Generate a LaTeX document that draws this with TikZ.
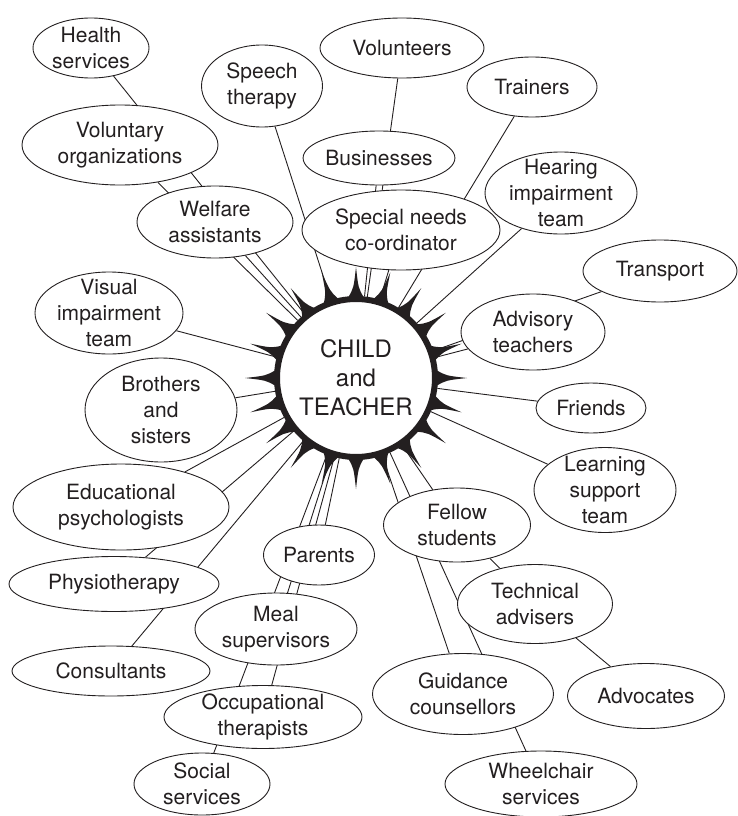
\documentclass[tikz,border=0pt]{standalone}
\usepackage{fontspec}
\setmainfont{TeX Gyre Heros}
\usetikzlibrary{shapes.geometric,backgrounds}
\definecolor{ink}{RGB}{35,31,32}
\tikzset{
  bub/.style={ellipse, draw=ink, fill=white, line width=0.9pt, inner xsep=0pt,
    inner ysep=-2pt, align=center, text=ink, font=\fontsize{21}{26}\selectfont},
  hub/.style={circle, draw=ink, fill=white, line width=6pt, inner sep=0pt,
    minimum size=158pt, align=center, text=ink, font=\fontsize{24}{29}\selectfont},
  link/.style={ink, line width=0.9pt}
}
\begin{document}
\begin{tikzpicture}[x=1pt, y=-1pt]
\useasboundingbox (0,0) rectangle (737,816);
% centre
\draw (356,378) node[hub](child){CHILD\\and\\TEACHER};
\foreach \a in {0,18,...,342}
  \fill[ink, shift={(child.center)}] (\a-5.5:81) .. controls (\a-1.5:90) .. (\a:111)
    .. controls (\a+1.5:90) .. (\a+5.5:81) -- cycle;
% upper left
\draw (91,48) node[bub, minimum width=116pt, minimum height=60pt](health){Health\\services}
    (120,145) node[bub, minimum width=196pt, minimum height=80pt](volorg){Voluntary\\organizations}
    (215,222) node[bub, minimum width=156pt, minimum height=72pt](welfare){Welfare\\assistants}
    (262,86) node[bub, minimum width=121pt, minimum height=82pt](speech){Speech\\therapy}
    (109,313) node[bub, minimum width=148pt, minimum height=82pt, inner ysep=-7pt](visual){Visual\\impairment\\team};
% upper right
\draw (402,48) node[bub, minimum width=164pt, minimum height=60pt](volunteers){Volunteers}
    (379,158) node[bub, minimum width=138pt, minimum height=54pt](business){Businesses}
    (401,230) node[bub, minimum width=198pt, minimum height=80pt](senco){Special needs\\co-ordinator}
    (532,87) node[bub, minimum width=130pt, minimum height=60pt](trainers){Trainers}
    (561,193) node[bub, minimum width=152pt, minimum height=82pt, inner ysep=-7pt](hearing){Hearing\\impairment\\team}
    (660,271) node[bub, minimum width=154pt, minimum height=62pt](transport){Transport}
    (533,332) node[bub, minimum width=144pt, minimum height=76pt](advisory){Advisory\\teachers}
    (591,408) node[bub, minimum width=110pt, minimum height=50pt](friends){Friends};
% lower right
\draw (605,490) node[bub, minimum width=142pt, minimum height=85pt, inner ysep=-7pt](learning){Learning\\support\\team}
    (457,525) node[bub, minimum width=147pt, minimum height=74pt](fellow){Fellow\\students}
    (535,604) node[bub, minimum width=155pt, minimum height=79pt](technical){Technical\\advisers}
    (646,696) node[bub, minimum width=157pt, minimum height=65pt](advocates){Advocates}
    (463,694) node[bub, minimum width=181pt, minimum height=81pt](guidance){Guidance\\counsellors}
    (541,784) node[bub, minimum width=192pt, minimum height=66pt](wheelchair){Wheelchair\\services};
% lower left
\draw (161,410) node[bub, minimum width=152pt, minimum height=104pt, inner ysep=-4pt](brothers){Brothers\\and\\sisters}
    (121,507) node[bub, minimum width=216pt, minimum height=86pt](educ){Educational\\psychologists}
    (114,584) node[bub, minimum width=210pt, minimum height=55pt](physio){Physiotherapy}
    (111,671) node[bub, minimum width=198pt, minimum height=50pt](consult){Consultants}
    (319,555) node[bub, minimum width=111pt, minimum height=60pt](parents){Parents}
    (276,629) node[bub, minimum width=162pt, minimum height=72pt](meal){Meal\\supervisors}
    (263,717) node[bub, minimum width=198pt, minimum height=63pt](occup){Occupational\\therapists}
    (202,784) node[bub, minimum width=136pt, minimum height=62pt](social){Social\\services};
% spokes, behind the bubbles
\begin{scope}[on background layer]
  \foreach \n in {health,volorg,welfare,speech,visual,volunteers,business,senco,
      trainers,hearing,transport,advisory,friends,learning,fellow,guidance,
      wheelchair,brothers,educ,physio,consult,parents,meal,occup,social}
    \draw [link] (\n) -- (child);
  \draw [link] (technical) -- (fellow);
  \draw [link] (advocates) -- (technical);
\end{scope}
\end{tikzpicture}
\end{document}
